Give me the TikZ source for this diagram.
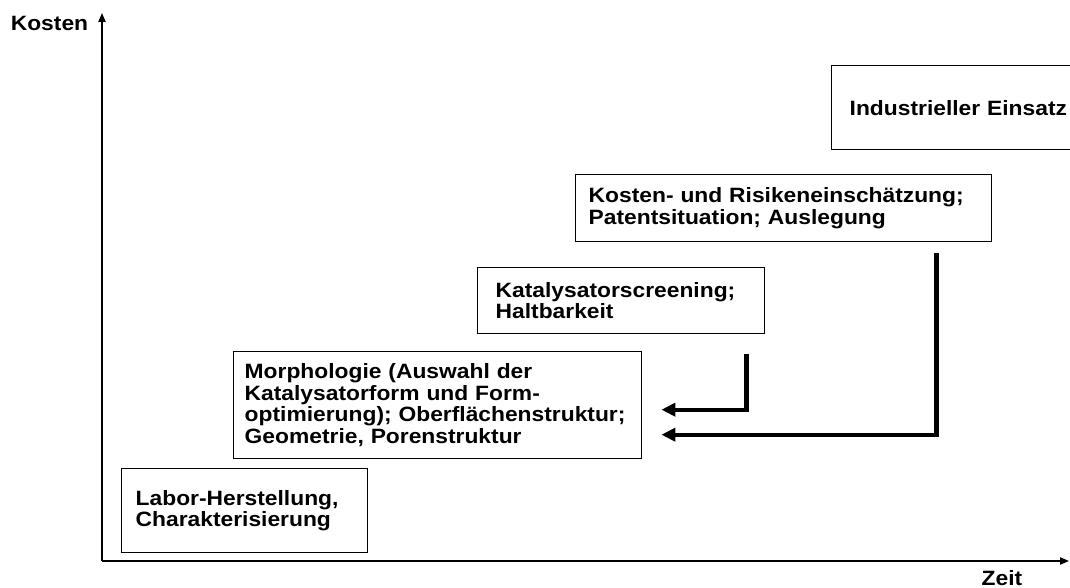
\documentclass[tikz,border=0pt]{standalone}
\usepackage{fontspec}
\setmainfont{Liberation Sans}[FakeStretch=1.1]
\usetikzlibrary{arrows.meta,calc}

\newcommand{\stagefont}{\fontsize{11.8}{12.3}\selectfont\bfseries\lineskiplimit=-10pt\relax}
\tikzset{
  stage/.style={draw,line width=0.8pt,anchor=north west,align=left,inner ysep=0pt},
  flow/.style={line width=2.4pt,-{Triangle[length=8pt,width=7.5pt]}},
  axis/.style={line width=0.9pt,->},
}

\begin{document}
\begin{tikzpicture}[x=1cm,y=1cm,>={Triangle[length=5pt,width=4pt]},font=\stagefont]
  \useasboundingbox (0,0) rectangle (21.4,11.76);
  % axes
  \coordinate (o) at (2.04,0.54);
  \coordinate (ytop) at (2.04,11.5);
  \coordinate (xend) at (21.38,0.54);
  \draw[axis] (o) -- (ytop);
  \draw[axis] (o) -- (xend);
  \node[anchor=base east,inner sep=0pt] (kosten) at (1.77,11.15) {Kosten};
  \node[anchor=base,inner sep=0pt] (zeit) at (20.04,0.05) {Zeit};
  % the five stages, lowest first
  \node[stage,text width=4.36cm,inner xsep=0.28cm,minimum height=1.68cm] (labor) at (2.42,2.40)
    {Labor-Herstellung,\\Charakterisierung};
  \node[stage,text width=7.72cm,inner xsep=0.22cm,minimum height=2.14cm] (morph) at (4.66,4.74)
    {Morphologie (Auswahl der\\Katalysatorform und Form-\\optimierung); Oberflächenstruktur;\\Geometrie, Porenstruktur};
  \node[stage,text width=5.02cm,inner xsep=0.36cm,minimum height=1.32cm] (screen) at (9.54,6.42)
    {Katalysatorscreening;\\Haltbarkeit};
  \node[stage,text width=7.80cm,inner xsep=0.26cm,minimum height=1.34cm] (risk) at (11.5,8.28)
    {Kosten- und Risikeneinschätzung;\\Patentsituation; Auslegung};
  \node[stage,text width=4.60cm,inner xsep=0.36cm,minimum height=1.68cm] (industrie) at (16.62,10.46)
    {Industrieller Einsatz};
  % feedback back to the morphology
  \draw[flow] ($(screen.south east)+(-0.38,-0.4)$) |- ($(morph.east)+(0.38,-0.09)$);
  \draw[flow] ($(risk.south east)+(-1.12,-0.22)$) |- ($(morph.east)+(0.38,-0.59)$);
\end{tikzpicture}
\end{document}
